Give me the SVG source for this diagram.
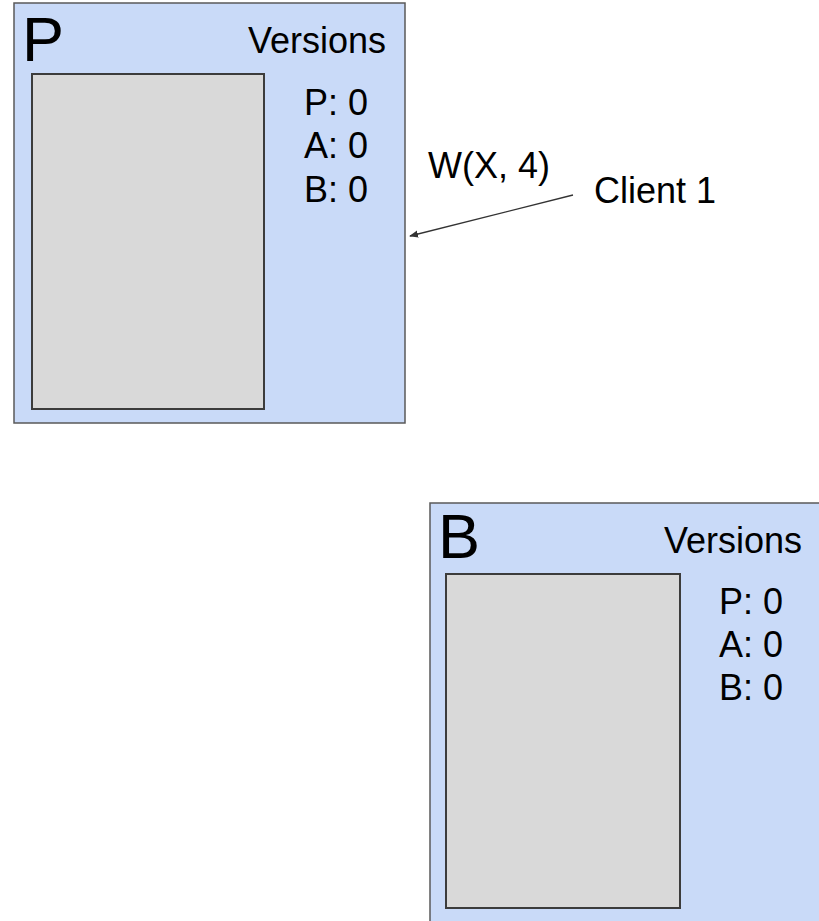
<svg xmlns="http://www.w3.org/2000/svg" width="819" height="921" viewBox="0 0 819 921">
  <style>
    .box { fill: #c9daf8; stroke: #595959; stroke-width: 1.5; }
    .store { fill: #d9d9d9; stroke: #3c3c3c; stroke-width: 2; }
    .big { font-family: "Liberation Sans", Arial, sans-serif; font-size: 63px; fill: #000; }
    .t { font-family: "Liberation Sans", Arial, sans-serif; font-size: 36px; fill: #000; }
    .edge { stroke: #333; stroke-width: 1.3; fill: none; }
  </style>
  <defs>
    <marker id="arrow" viewBox="0 0 10 10" refX="9" refY="5" markerWidth="9" markerHeight="9" markerUnits="userSpaceOnUse" orient="auto">
      <path d="M0,1 L10,5 L0,9 Z" fill="#333"/>
    </marker>
  </defs>
  <rect width="819" height="921" fill="#fff"/>

  <g id="node-P">
    <rect class="box" x="14" y="3" width="391" height="420"/>
    <rect class="store" x="32" y="74" width="232" height="335"/>
    <text class="big" x="22" y="61">P</text>
    <text class="t" x="248" y="53">Versions</text>
    <text class="t" x="304" y="115">P: 0</text>
    <text class="t" x="304" y="158">A: 0</text>
    <text class="t" x="304" y="202">B: 0</text>
  </g>

  <g id="node-B">
    <rect class="box" x="430" y="503" width="400" height="430"/>
    <rect class="store" x="446" y="574" width="234" height="334"/>
    <text class="big" x="438" y="558">B</text>
    <text class="t" x="664" y="553">Versions</text>
    <text class="t" x="719" y="614">P: 0</text>
    <text class="t" x="719" y="657">A: 0</text>
    <text class="t" x="719" y="700">B: 0</text>
  </g>

  <g id="client-1">
    <text class="t" x="594" y="203">Client 1</text>
  </g>

  <g id="connectors">
    <line class="edge" x1="573" y1="195" x2="410" y2="236" marker-end="url(#arrow)"/>
    <text class="t" x="428" y="178">W(X, 4)</text>
  </g>
</svg>
